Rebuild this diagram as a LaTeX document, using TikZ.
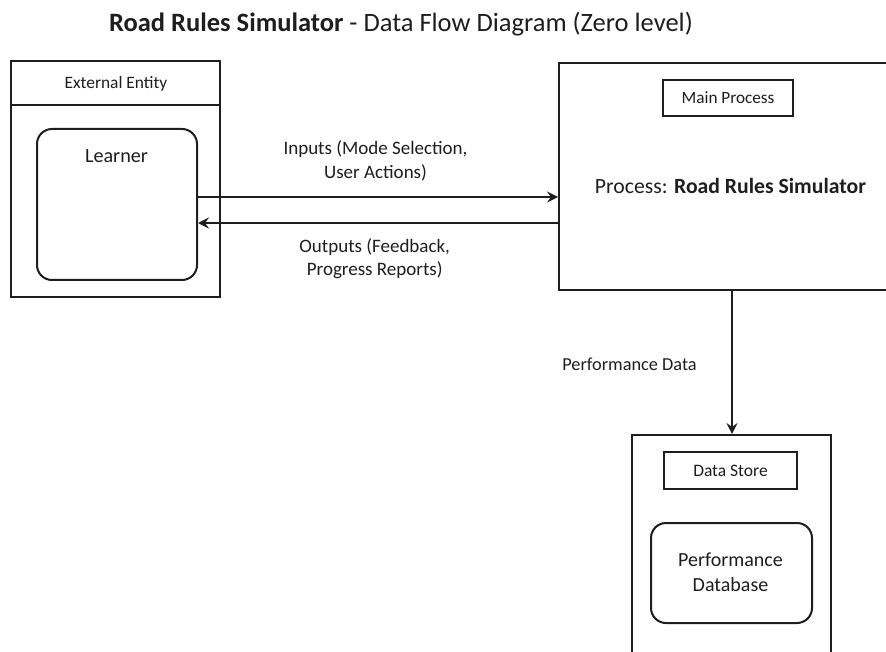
\documentclass[tikz,border=0pt]{standalone}
\usepackage{fontspec}
\setmainfont{Carlito}
\usetikzlibrary{arrows.meta}
\definecolor{ink}{HTML}{1E1E1E}
\begin{document}
\begin{tikzpicture}[x=1pt,y=-1pt,
  box/.style={draw=ink, line width=2pt, inner sep=0pt},
  roundbox/.style={box, rounded corners=15pt},
  tagbox/.style={draw=ink, line width=1.8pt, inner sep=0pt},
  txt/.style={inner sep=0pt, text=ink, anchor=base},
  flow/.style={draw=ink, line width=2pt, -{Stealth[length=11pt,width=11pt,inset=4pt]}}
]
\clip (0,0) rectangle (886,652);
\fill[white] (0,0) rectangle (886,652);

% title
\node[txt, font=\fontsize{26.5}{32}\selectfont] (title) at (401,32)
  {\textbf{Road Rules Simulator} - Data Flow Diagram (Zero level)};

% external entity
\node[box, minimum width=209, minimum height=236] (ext) at (115.5,179) {};
\draw[ink, line width=2pt] (ext.west |- 0,105) -- (ext.east |- 0,105);
\node[txt, font=\fontsize{17.4}{20}\selectfont] (extlbl) at (116,89) {External Entity};
\node[roundbox, minimum width=160, minimum height=151] (learner) at (117,204.5) {};
\node[txt, font=\fontsize{20.2}{24}\selectfont] (learnerlbl) at (116.5,163) {Learner};

% main process
\node[box, minimum width=361, minimum height=227] (proc) at (739.5,176.5) {};
\node[tagbox, minimum width=130, minimum height=36] (maintag) at (728,98) {};
\node[txt, font=\fontsize{17.2}{20}\selectfont] (maintaglbl) at (728,104) {Main Process};
\node[txt, font=\fontsize{21.7}{26}\selectfont] (proclbl) at (730.5,194)
  {Process: \textbf{Road Rules Simulator}};

% data store
\node[box, minimum width=199, minimum height=265] (store) at (731,567.5) {};
\node[tagbox, minimum width=133, minimum height=37] (storetag) at (730.5,470.5) {};
\node[txt, font=\fontsize{17.5}{20}\selectfont] (storetaglbl) at (730.5,476.5) {Data Store};
\node[roundbox, minimum width=161, minimum height=100] (db) at (731.5,573) {};
\node[txt, font=\fontsize{20}{24}\selectfont] (dblbl1) at (730.5,566) {Performance};
\node[txt, font=\fontsize{20}{24}\selectfont] (dblbl2) at (730.5,591.5) {Database};

% data flows
\draw[flow] (learner.east |- 0,197) -- (proc.west |- 0,197);
\draw[flow] (proc.west |- 0,223) -- (learner.east |- 0,223);
\draw[flow] (732,0 |- proc.south) -- (732,0 |- store.north);

\node[txt, font=\fontsize{19}{23}\selectfont] (inlbl1) at (375.5,155) {Inputs (Mode Selection,};
\node[txt, font=\fontsize{19}{23}\selectfont] (inlbl2) at (375.5,179) {User Actions)};
\node[txt, font=\fontsize{19}{23}\selectfont] (outlbl1) at (374.7,252.5) {Outputs (Feedback,};
\node[txt, font=\fontsize{19}{23}\selectfont] (outlbl2) at (374.7,276) {Progress Reports)};
\node[txt, font=\fontsize{18.3}{22}\selectfont] (perflbl) at (629.5,370.5) {Performance Data};
\end{tikzpicture}
\end{document}
